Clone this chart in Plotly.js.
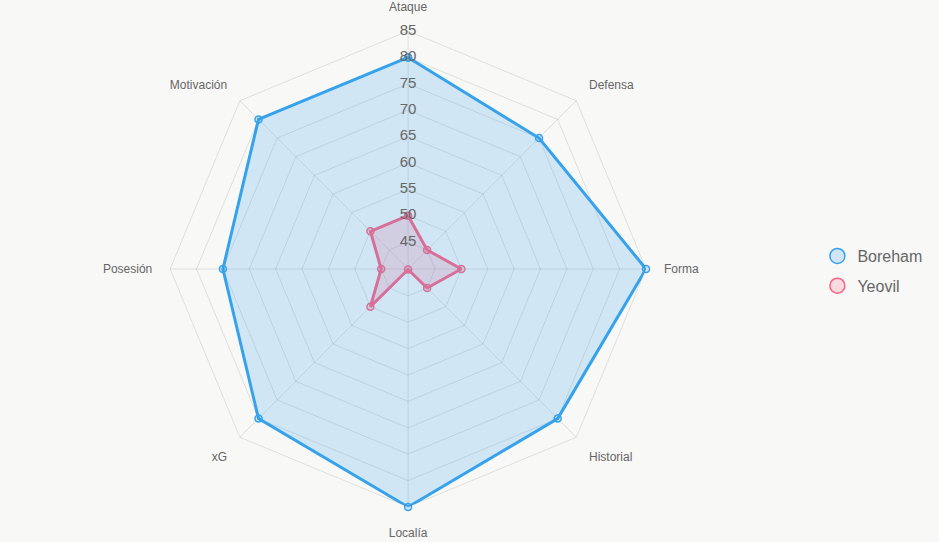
<!DOCTYPE html>
<html>
<head>
<meta charset="utf-8">
<script src="https://cdn.plot.ly/plotly-3.0.1.min.js"></script>
<style>html,body{margin:0;padding:0;background:#f8f8f7;}#chart{width:939px;height:542px;}</style>
</head>
<body>
<div id="chart"></div>
<script>
const categories = ["Ataque", "Defensa", "Forma", "Historial", "Localía", "xG", "Posesión", "Motivación"];
const boreham = [80, 75, 85, 80, 85, 80, 75, 80];
const yeovil = [50, 45, 50, 45, 40, 50, 45, 50];
const radialTicks = [45, 50, 55, 60, 65, 70, 75, 80, 85];
const seriesNames = ["Boreham", "Yeovil"];

const closed = a => a.concat([a[0]]);
const thetaClosed = closed(categories);

const traces = [
  {
    type: "scatterpolar", name: seriesNames[1], showlegend: false, cliponaxis: false,
    r: closed(yeovil), theta: thetaClosed, mode: "lines+markers", fill: "toself",
    fillcolor: "rgba(255,99,132,0.2)",
    line: {color: "#FF6384", width: 3},
    marker: {symbol: "circle", size: 7, color: "rgba(255,99,132,0.2)", line: {color: "#FF6384", width: 1.5}},
    hoverinfo: "skip"
  },
  {
    type: "scatterpolar", name: seriesNames[0], showlegend: false, cliponaxis: false,
    r: closed(boreham), theta: thetaClosed, mode: "lines+markers", fill: "toself",
    fillcolor: "rgba(54,162,235,0.2)",
    line: {color: "#36A2EB", width: 3},
    marker: {symbol: "circle", size: 7, color: "rgba(54,162,235,0.2)", line: {color: "#36A2EB", width: 1.5}},
    hoverinfo: "skip"
  },
  {
    type: "scatterpolar", mode: "text", showlegend: false, hoverinfo: "skip", cliponaxis: false,
    r: radialTicks, theta: radialTicks.map(() => categories[0]),
    text: radialTicks.map(String),
    textposition: "middle center",
    textfont: {family: "Liberation Sans, Arial, sans-serif", size: 15, color: "#666"}
  },
  {
    type: "scatterpolar", name: seriesNames[0], legendgroup: "a", mode: "markers", r: [null], theta: [null],
    marker: {symbol: "circle", size: 15, color: "rgba(54,162,235,0.2)", line: {color: "#36A2EB", width: 1.5}}
  },
  {
    type: "scatterpolar", name: seriesNames[1], legendgroup: "b", mode: "markers", r: [null], theta: [null],
    marker: {symbol: "circle", size: 15, color: "rgba(255,99,132,0.2)", line: {color: "#FF6384", width: 1.5}}
  }
];

const layout = {
  width: 939, height: 542,
  margin: {l: 0, r: 0, t: 0, b: 0},
  paper_bgcolor: "#f8f8f7",
  plot_bgcolor: "#f8f8f7",
  font: {family: "Liberation Sans, Arial, sans-serif", color: "#666"},
  showlegend: true,
  legend: {x: 0.8705, y: 0.5, xanchor: "left", yanchor: "middle", itemwidth: 30,
           font: {size: 16, color: "#666"}, bgcolor: "rgba(0,0,0,0)", tracegroupgap: 6},
  polar: {
    domain: {x: [0.1812, 0.6880], y: [0.0646, 0.9428]},
    bgcolor: "rgba(0,0,0,0)",
    gridshape: "linear",
    radialaxis: {
      range: [39.9, 85], tickvals: radialTicks, showticklabels: false, ticks: "",
      showline: false, gridcolor: "rgba(0,0,0,0.1)", gridwidth: 1, angle: 90
    },
    angularaxis: {
      direction: "clockwise", rotation: 90,
      categoryarray: categories, type: "category",
      gridcolor: "rgba(0,0,0,0.1)", linecolor: "rgba(0,0,0,0.1)", linewidth: 1,
      ticks: "outside", ticklen: 15, tickcolor: "rgba(0,0,0,0)",
      tickfont: {size: 12, color: "#666"}
    }
  }
};

Plotly.newPlot("chart", traces, layout, {displayModeBar: false, staticPlot: true});
</script>
</body>
</html>
